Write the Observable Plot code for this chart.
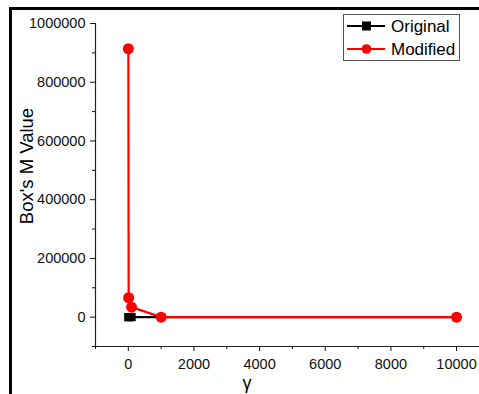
<!DOCTYPE html>
<html><head><meta charset="utf-8">
<script src="https://cdn.jsdelivr.net/npm/d3@7"></script>
<script src="https://cdn.jsdelivr.net/npm/@observablehq/plot@0.6"></script>
<style>
body{margin:0;background:#fff}
#wrap{position:relative;width:479px;height:394px;overflow:hidden;background:#fff}
#border{position:absolute;left:9px;top:7px;width:600px;height:600px;border-top:3px solid #000;border-left:3px solid #000;pointer-events:none}
</style>
</head><body><div id="wrap"></div>
<script>
const gamma = [1, 10, 100, 1000, 10000];
const original = [0, 0, 0, 0, 0];
const modified = [914000, 66000, 34000, 0, 0];
const xTicks = [0, 2000, 4000, 6000, 8000, 10000];
const xMinor = [-1000, 1000, 3000, 5000, 7000, 9000];
const yTicks = [0, 200000, 400000, 600000, 800000, 1000000];
const yMinor = [-100000, 100000, 300000, 500000, 700000, 900000];
const seriesNames = ["Original", "Modified"];
const xLabel = "γ";
const yLabel = "Box's M Value";

const orig = gamma.map((g, i) => ({g, v: original[i]}));
const mod = gamma.map((g, i) => ({g, v: modified[i]}));
const font = "'Liberation Sans', Arial, sans-serif";

const chart = Plot.plot({
  width: 479, height: 394,
  marginLeft: 95, marginRight: 0, marginTop: 23, marginBottom: 48,
  x: {domain: [-1000, 10700]},
  y: {domain: [-100000, 1000000]},
  style: {fontFamily: font, fontSize: "14.5px", color: "#111", background: "white"},
  marks: [
    Plot.ruleX([-1000], {stroke: "#222", strokeWidth: 1.2}),
    Plot.ruleY([-100000], {stroke: "#222", strokeWidth: 1.2}),
    Plot.axisX({ticks: xTicks, tickSize: 5, tickPadding: 7, label: null, tickFormat: d => String(d)}),
    Plot.axisX({ticks: xMinor, tickSize: 3, text: null, label: null}),
    Plot.axisY({ticks: yTicks, tickSize: 5, tickPadding: 5, label: null, tickFormat: d => String(d)}),
    Plot.axisY({ticks: yMinor, tickSize: 3, text: null, label: null}),
    Plot.line(orig, {x: "g", y: "v", stroke: "#000", strokeWidth: 2.2}),
    Plot.dot(orig, {x: "g", y: "v", symbol: "square", r: 4.6, fill: "#000"}),
    Plot.line(mod, {x: "g", y: "v", stroke: "#ff0000", strokeWidth: 2.2}),
    Plot.dot(mod, {x: "g", y: "v", r: 5.5, fill: "#ff0000"})
  ]
});

const svg = d3.select(chart);
svg.append("text")
  .attr("transform", "translate(26,166) rotate(-90)")
  .attr("text-anchor", "middle").attr("dominant-baseline", "central")
  .style("font-family", font).style("font-size", "18.5px").attr("fill", "#000")
  .text(yLabel);
svg.append("text")
  .attr("x", 247).attr("y", 383)
  .attr("text-anchor", "middle").attr("dominant-baseline", "central")
  .style("font-family", font).style("font-size", "18px").attr("fill", "#000")
  .text(xLabel);

const lg = svg.append("g");
lg.append("rect").attr("x", 343.5).attr("y", 14.5).attr("width", 116).attr("height", 46)
  .attr("fill", "#fff").attr("stroke", "#555").attr("stroke-width", 1);
const colors = ["#000", "#ff0000"];
const rowsY = [26, 49];
seriesNames.forEach((name, i) => {
  const y = rowsY[i];
  lg.append("line").attr("x1", 347).attr("x2", 385).attr("y1", y).attr("y2", y)
    .attr("stroke", colors[i]).attr("stroke-width", 2.2);
  if (i === 0) {
    lg.append("rect").attr("x", 362).attr("y", y - 4.5).attr("width", 9).attr("height", 9).attr("fill", colors[i]);
  } else {
    lg.append("circle").attr("cx", 366.5).attr("cy", y).attr("r", 4.8).attr("fill", colors[i]);
  }
  lg.append("text").attr("x", 391).attr("y", y).attr("text-anchor", "start").attr("dominant-baseline", "central")
    .style("font-family", font).style("font-size", "17px").attr("fill", "#000").text(name);
});

const wrap = document.getElementById("wrap");
wrap.appendChild(chart);
const b = document.createElement("div");
b.id = "border";
wrap.appendChild(b);
</script>
</body></html>
